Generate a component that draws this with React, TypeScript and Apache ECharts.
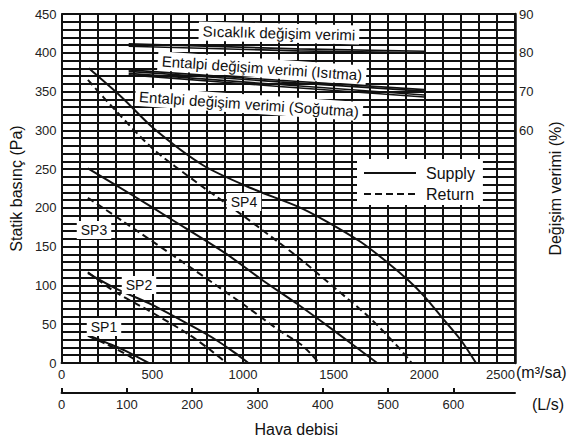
import React, { useEffect, useRef } from 'react';
import * as echarts from 'echarts';

const FONT = '"Liberation Sans", Arial, Helvetica, sans-serif';
const INK = '#111';

// Tick labels
const flowTicks = [0, 500, 1000, 1500, 2000, 2500]; // m³/sa
const lsTicks = [0, 100, 200, 300, 400, 500, 600]; // L/s
const pressureTicks = [0, 50, 100, 150, 200, 250, 300, 350, 400, 450]; // Pa
const effTicks = [60, 70, 80, 90]; // %

// Static pressure curves [flow m³/sa, Pa]
const sp1Supply = [[145, 36], [250, 26], [350, 16], [480, 0]];
const sp1Return = [[145, 35], [250, 24], [350, 12], [435, 0]];
const sp2Supply = [[145, 116], [300, 96], [500, 75], [700, 50], [850, 30], [950, 14], [1030, 0]];
const sp2Return = [[145, 117], [300, 91], [500, 65], [700, 37], [830, 15], [910, 0]];
const sp3Supply = [[145, 251], [400, 215], [600, 186], [900, 142], [1100, 108], [1300, 76], [1500, 42], [1740, 0]];
const sp3Return = [[145, 213], [330, 184], [700, 125], [1000, 76], [1200, 42], [1330, 22], [1420, 0]];
const sp4Supply = [[150, 380], [330, 343], [510, 302], [780, 255], [1050, 225], [1300, 202], [1450, 184], [1650, 156], [1800, 129], [1910, 107], [2000, 86], [2100, 58], [2200, 30], [2285, 0]];
const sp4Return = [[145, 365], [300, 325], [500, 277], [750, 232], [1000, 190], [1300, 137], [1500, 98], [1700, 58], [1850, 22], [1930, 0]];

// Efficiency lines [flow m³/sa, %]
const sicaklikA = [[370, 82.3], [1300, 81.0], [2000, 80.4]];
const sicaklikB = [[370, 81.7], [1300, 80.5], [2000, 80.0]];
const isitmaA = [[370, 75.6], [1200, 72.9], [2000, 70.5]];
const isitmaB = [[370, 75.2], [1200, 72.5], [2000, 70.1]];
const sogutmaA = [[370, 74.7], [1200, 71.8], [2000, 69.1]];
const sogutmaB = [[370, 74.3], [1200, 71.3], [2000, 68.6]];

const curve = (name: string, data: number[][], dashed: boolean, yAxisIndex = 0, smooth: number | boolean = 0.3, width = 2) => ({
  type: 'line',
  name,
  data,
  xAxisIndex: 0,
  yAxisIndex,
  symbol: 'none',
  smooth,
  silent: true,
  z: 3,
  lineStyle: { color: INK, width, type: dashed ? [7, 4] : 'solid' },
  itemStyle: { color: INK },
});

const note = (text: string, x: number, y: number, rot: number, size: number) => ({
  type: 'text',
  x,
  y,
  rotation: rot,
  z: 100,
  style: {
    text,
    fill: INK,
    fontSize: size,
    fontFamily: FONT,
    align: 'center',
    verticalAlign: 'middle',
    textAlign: 'center',
    textVerticalAlign: 'middle',
    backgroundColor: '#fff',
    padding: [2, 4],
  },
});

const plain = (v: number) => String(v);

export default function App() {
  const ref = useRef<HTMLDivElement>(null);
  useEffect(() => {
    document.body.style.margin = '0';
    if (!ref.current) return;
    const chart = echarts.init(ref.current, null, { renderer: 'svg' });
    const axisLine = { show: true, onZero: false, lineStyle: { color: INK, width: 2 } };
    const labelBase = { color: '#222', fontSize: 13, fontFamily: FONT, formatter: plain };
    chart.setOption({
      animation: false,
      textStyle: { fontFamily: FONT },
      grid: { left: 57, right: 72, top: 14, bottom: 79 },
      legend: {
        data: ['Supply', 'Return'],
        orient: 'vertical',
        left: 357,
        top: 159,
        padding: [6, 8, 3, 6],
        itemWidth: 52,
        itemHeight: 14,
        itemGap: 5,
        backgroundColor: '#fff',
        selectedMode: false,
        z: 20,
        itemStyle: { opacity: 0, color: 'transparent', borderWidth: 0 },
        textStyle: { fontSize: 16, color: INK, fontFamily: FONT, lineHeight: 16, padding: [0, 0, 0, 5] },
      },
      xAxis: [
        {
          type: 'value',
          min: 0,
          max: 2500,
          interval: 100,
          axisLine,
          axisTick: { show: false },
          axisLabel: { ...labelBase, margin: 5, customValues: flowTicks, alignMaxLabel: 'right' },
          splitLine: { show: true, lineStyle: { color: INK, width: 2 } },
        },
        {
          type: 'value',
          position: 'bottom',
          offset: 30,
          min: 0,
          max: 2500 / 3.6,
          interval: 100,
          axisLine,
          axisTick: { show: true, inside: true, length: 5, lineStyle: { color: INK, width: 2 }, customValues: lsTicks },
          axisLabel: { ...labelBase, margin: 5, customValues: lsTicks },
          splitLine: { show: false },
          name: 'Hava debisi',
          nameLocation: 'middle',
          nameGap: 28,
          nameTextStyle: { fontSize: 16, color: INK, fontFamily: FONT, padding: [0, 0, 0, 16] },
        },
      ],
      yAxis: [
        {
          type: 'value',
          min: 0,
          max: 450,
          interval: 10,
          axisLine,
          axisTick: { show: false },
          axisLabel: { ...labelBase, margin: 5, customValues: pressureTicks },
          splitLine: { show: true, lineStyle: { color: INK, width: 2 } },
          name: 'Statik basınç (Pa)',
          nameLocation: 'middle',
          nameGap: 32,
          nameRotate: 90,
          nameTextStyle: { fontSize: 16, color: INK, fontFamily: FONT },
        },
        {
          type: 'value',
          position: 'right',
          min: 0,
          max: 90,
          interval: 10,
          axisLine: { show: true, onZero: false, lineStyle: { color: INK, width: 2.5 } },
          axisTick: { show: false },
          axisLabel: { ...labelBase, margin: 4, customValues: effTicks },
          splitLine: { show: false },
          name: 'Değişim verimi (%)',
          nameLocation: 'middle',
          nameGap: 32,
          nameRotate: 90,
          nameTextStyle: { fontSize: 16, color: INK, fontFamily: FONT },
        },
      ],
      series: [
        curve('Supply', sp4Supply, false),
        curve('Return', sp4Return, true),
        curve('Supply', sp3Supply, false),
        curve('Return', sp3Return, true),
        curve('Supply', sp2Supply, false),
        curve('Return', sp2Return, true),
        curve('Supply', sp1Supply, false),
        curve('Return', sp1Return, true),
        curve('Sıcaklık değişim verimi A', sicaklikA, false, 1, false, 1.6),
        curve('Sıcaklık değişim verimi B', sicaklikB, false, 1, false, 1.6),
        curve('Entalpi (Isıtma) A', isitmaA, false, 1, false, 1.6),
        curve('Entalpi (Isıtma) B', isitmaB, false, 1, false, 1.6),
        curve('Entalpi (Soğutma) A', sogutmaA, false, 1, false, 1.6),
        curve('Entalpi (Soğutma) B', sogutmaB, false, 1, false, 1.6),
      ],
      graphic: [
        note('Sıcaklık değişim verimi', 279, 33, -0.026, 15),
        note('Entalpi değişim verimi (Isıtma)', 262, 68, -0.07, 15),
        note('Entalpi değişim verimi (Soğutma)', 249, 104, -0.068, 15),
        note('SP4', 244, 202, 0, 14),
        note('SP3', 94, 230, 0, 14),
        note('SP2', 139, 285, 0, 14),
        note('SP1', 104, 327, 0, 14),
        {
          type: 'text', x: 516, y: 372, z: 100,
          style: { text: '(m³/sa)', fill: INK, fontSize: 16, fontFamily: FONT, align: 'left', verticalAlign: 'middle', textAlign: 'left', textVerticalAlign: 'middle' },
        },
        {
          type: 'text', x: 532, y: 404, z: 100,
          style: { text: '(L/s)', fill: INK, fontSize: 16, fontFamily: FONT, align: 'left', verticalAlign: 'middle', textAlign: 'left', textVerticalAlign: 'middle' },
        },
      ],
    });
    return () => chart.dispose();
  }, []);
  return <div ref={ref} style={{ width: 587, height: 442 }} />;
}
